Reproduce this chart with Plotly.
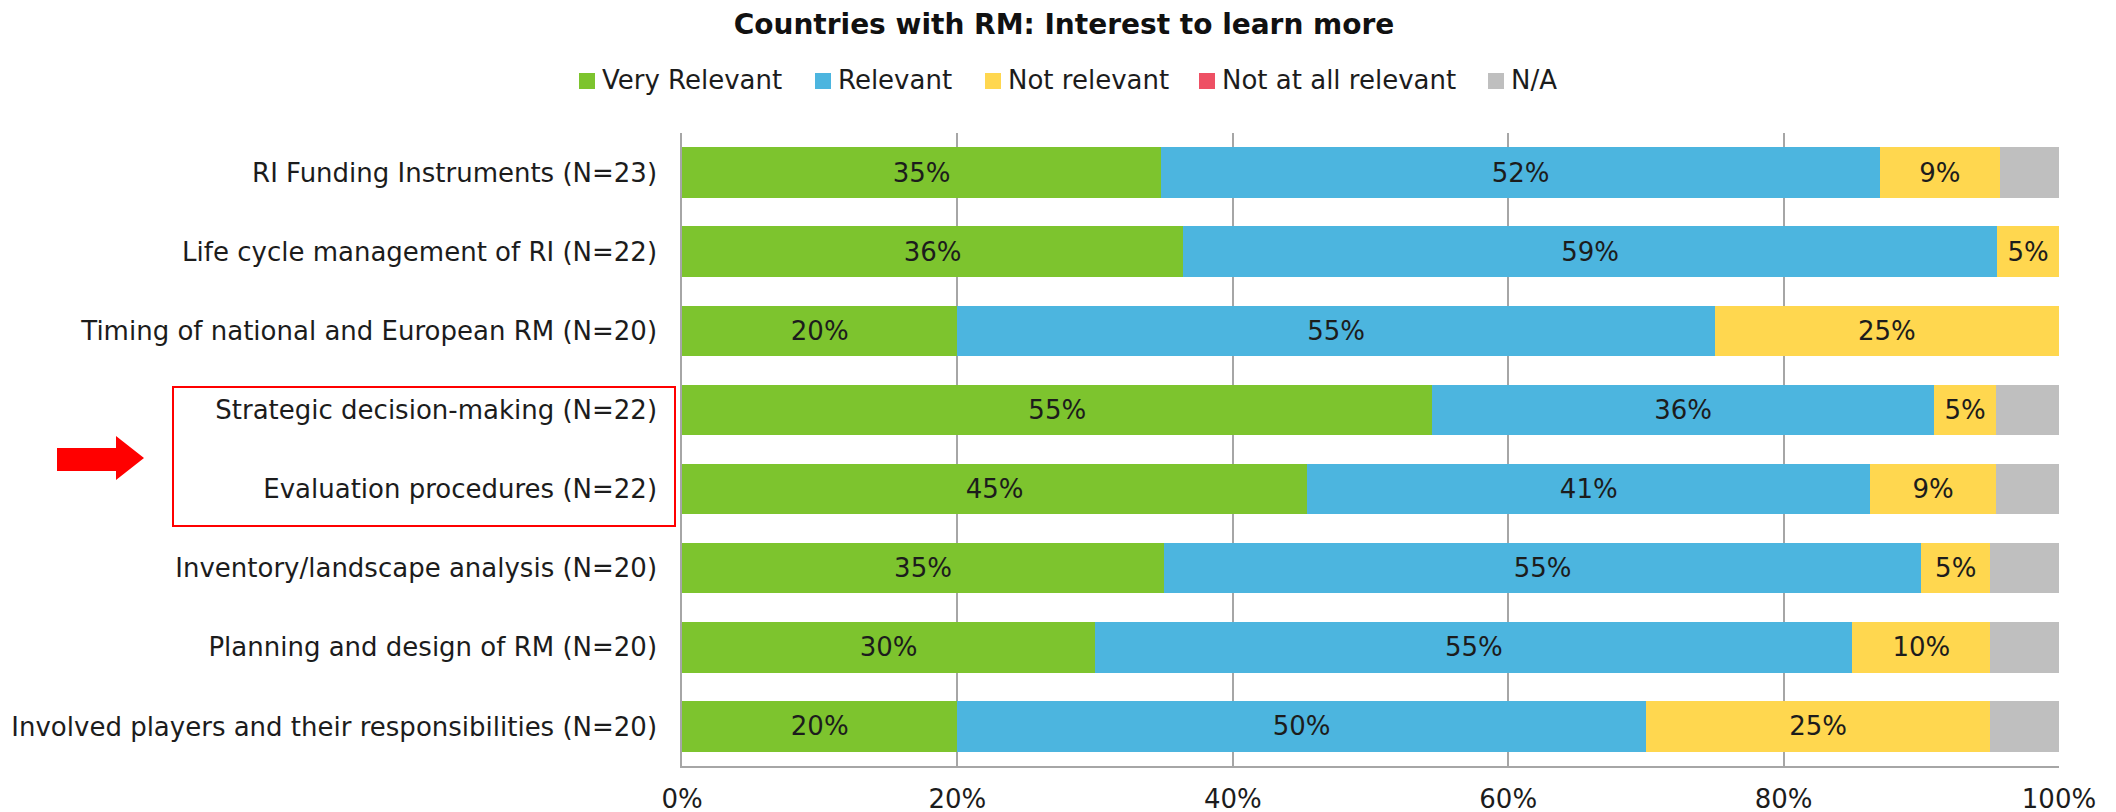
import plotly.graph_objects as go

categories = [
    "RI Funding Instruments (N=23)",
    "Life cycle management of RI (N=22)",
    "Timing of national and European RM (N=20)",
    "Strategic decision-making (N=22)",
    "Evaluation procedures (N=22)",
    "Inventory/landscape analysis (N=20)",
    "Planning and design of RM (N=20)",
    "Involved players and their responsibilities (N=20)",
]
very_relevant = [34.8, 36.4, 20, 54.5, 45.4, 35, 30, 20]
relevant = [52.2, 59.1, 55, 36.4, 40.9, 55, 55, 50]
not_relevant = [8.7, 4.5, 25, 4.55, 9.1, 5, 10, 25]
not_at_all = [0, 0, 0, 0, 0, 0, 0, 0]
na = [4.3, 0, 0, 4.55, 4.6, 5, 5, 5]
tick_vals = [0, 20, 40, 60, 80, 100]
tick_text = ["0%", "20%", "40%", "60%", "80%", "100%"]

series = [
    ("Very Relevant", very_relevant, "#7DC42E", True),
    ("Relevant", relevant, "#4CB5DF", True),
    ("Not relevant", not_relevant, "#FFD74F", True),
    ("Not at all relevant", not_at_all, "#EE5064", False),
    ("N/A", na, "#BFBFBF", False),
]

FONT = "DejaVu Sans"
TXT = "#1c1c1c"
W, H = 2116, 812
OFF = 8  # page body margin
L, T = 682 - OFF, 133 - OFF
R = W - (2059 - OFF)
B = H - (766 - OFF)
pw, ph = W - L - R, H - T - B


def px(x):  # page pixel -> paper x
    return (x - OFF - L) / pw


def py(y):  # page pixel -> paper y
    return (H - B - (y - OFF)) / ph


fig = go.Figure()
for name, vals, color, labelled in series:
    fig.add_trace(go.Bar(
        y=categories, x=vals, name=name, orientation="h",
        marker=dict(color=color, line=dict(width=0)),
        texttemplate="%{x:.0f}%" if labelled else "",
        textposition="inside", insidetextanchor="middle",
        textfont=dict(family=FONT, size=26, color=TXT),
        constraintext="none", hoverinfo="x+name", showlegend=False,
    ))

# legend drawn as squares + labels, placed like the original
marker_left = [579, 815, 985, 1199, 1488]
for (name, vals, color, _), ml in zip(series, marker_left):
    fig.add_shape(type="rect", xref="paper", yref="paper",
                  x0=px(ml), x1=px(ml + 16), y0=py(89), y1=py(73),
                  fillcolor=color, line=dict(width=0))
    fig.add_annotation(text=name, xref="paper", yref="paper",
                       x=px(ml + 22), xanchor="left", y=py(80), yanchor="middle",
                       showarrow=False, borderpad=0,
                       font=dict(family=FONT, size=26, color=TXT))

fig.update_layout(
    barmode="stack", bargap=0.363,
    width=W, height=H,
    margin=dict(l=L, r=R, t=T, b=B, pad=0),
    paper_bgcolor="white", plot_bgcolor="white",
    font=dict(family=FONT, size=26, color=TXT),
    showlegend=False,
    title=dict(text="<b>Countries with RM: Interest to learn more</b>",
               x=(1064 - OFF) / W, xanchor="center", y=1 - (24 - OFF) / H, yanchor="middle",
               font=dict(family=FONT, size=28, color="#111")),
)
fig.update_xaxes(range=[0, 100], tickvals=tick_vals, ticktext=tick_text,
                 showgrid=True, gridcolor="#A6A6A6", gridwidth=1.5,
                 showline=True, linecolor="#A6A6A6", linewidth=1.5,
                 ticks="", ticklabelstandoff=9, zeroline=False, automargin=False,
                 tickfont=dict(family=FONT, size=26, color=TXT))
fig.update_yaxes(autorange="reversed", showline=True, linecolor="#A6A6A6", linewidth=1.5,
                 ticks="", ticklabelstandoff=18, showgrid=False, automargin=False,
                 tickfont=dict(family=FONT, size=26, color=TXT))

# red highlight box
fig.add_shape(type="rect", xref="paper", yref="paper",
              x0=px(173), x1=px(675), y0=py(526), y1=py(387),
              line=dict(color="#FF0000", width=2), fillcolor="rgba(0,0,0,0)")
# red arrow
ax = [57, 116, 144]
ay = [448, 471, 436, 480, 458]
path = (f"M {px(ax[0])},{py(ay[0])} L {px(ax[1])},{py(ay[0])} L {px(ax[1])},{py(ay[2])} "
        f"L {px(ax[2])},{py(ay[4])} L {px(ax[1])},{py(ay[3])} L {px(ax[1])},{py(ay[1])} "
        f"L {px(ax[0])},{py(ay[1])} Z")
fig.add_shape(type="path", xref="paper", yref="paper", path=path,
              fillcolor="#FF0000", line=dict(width=0))

fig.write_html("out.html")
